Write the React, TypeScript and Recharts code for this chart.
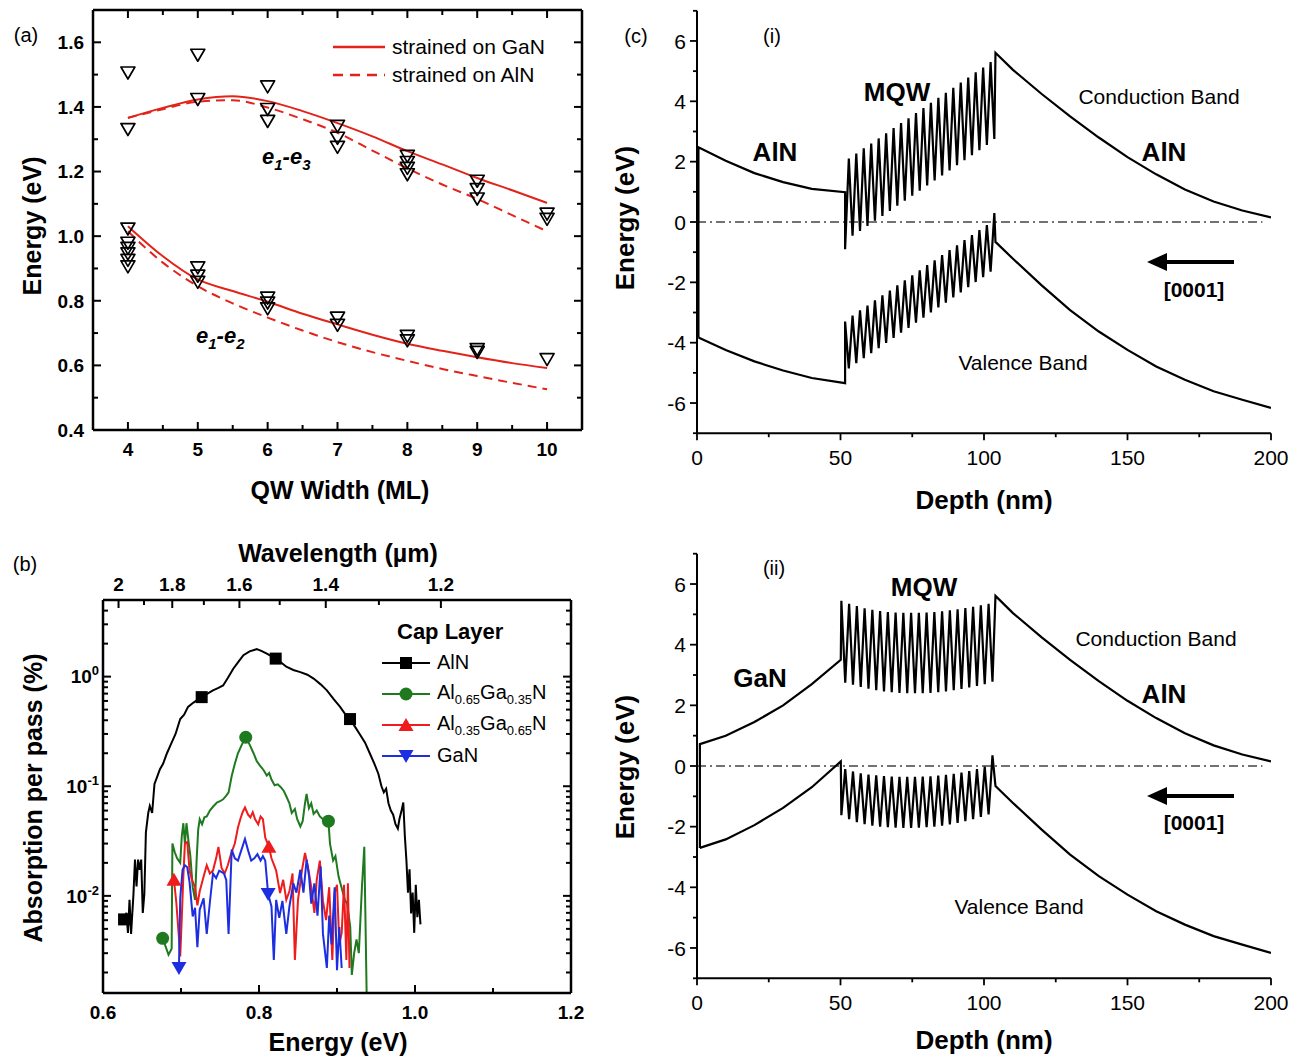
import React from 'react';
import { ComposedChart, Line, Scatter, XAxis, YAxis, Legend, ReferenceLine } from 'recharts';

const FONT = '"Liberation Sans", Arial, Helvetica, sans-serif';
const CURVE_RED = '#e2231a';
const C_ALN = '#000000';
const C_AL65 = '#1f7a1f';
const C_AL35 = '#ee1c1c';
const C_GAN = '#1c2ee0';

// ---------------- (a) QW transition energies ----------------
const qwWidth = [4, 4.5, 5, 5.5, 6, 6.5, 7, 7.5, 8, 8.5, 9, 9.5, 10];
const e13StrainedGaN = [1.366, 1.397, 1.423, 1.433, 1.418, 1.387, 1.35, 1.309, 1.263, 1.222, 1.18, 1.142, 1.103];
const e13StrainedAlN = [1.366, 1.393, 1.416, 1.421, 1.398, 1.362, 1.32, 1.265, 1.21, 1.16, 1.115, 1.065, 1.015];
const e12StrainedGaN = [1.031, 0.938, 0.866, 0.83, 0.797, 0.76, 0.727, 0.695, 0.667, 0.645, 0.625, 0.607, 0.592];
const e12StrainedAlN = [1.015, 0.918, 0.845, 0.792, 0.748, 0.708, 0.672, 0.641, 0.614, 0.589, 0.567, 0.546, 0.526];
const measuredWidth = [4, 4, 4, 4, 4, 4, 4, 4, 5, 5, 5, 5, 5, 6, 6, 6, 6, 6, 6, 7, 7, 7, 7, 7, 8, 8, 8, 8, 8, 8, 9, 9, 9, 9, 9, 10, 10, 10];
const measuredEnergy = [1.505, 1.33, 1.022, 0.978, 0.962, 0.945, 0.925, 0.905, 1.56, 1.423, 0.902, 0.876, 0.857, 1.462, 1.392, 1.355, 0.808, 0.793, 0.775, 1.34, 1.303, 1.275, 0.746, 0.724, 1.247, 1.228, 1.21, 1.19, 0.69, 0.676, 1.17, 1.144, 1.115, 0.649, 0.64, 1.068, 1.052, 0.618];
const aXTicks = [4, 4.5, 5, 5.5, 6, 6.5, 7, 7.5, 8, 8.5, 9, 9.5, 10];
const aXMajor = [4, 5, 6, 7, 8, 9, 10];
const aYTicks = [0.4, 0.5, 0.6, 0.7, 0.8, 0.9, 1.0, 1.1, 1.2, 1.3, 1.4, 1.5, 1.6];
const aYMajor = [0.4, 0.6, 0.8, 1.0, 1.2, 1.4, 1.6];
const aLegendNames = ['strained on GaN', 'strained on AlN'];

// ---------------- (b) absorption spectra ----------------
const alnE = [0.623, 0.627, 0.63, 0.632, 0.634, 0.636, 0.639, 0.641, 0.643, 0.645, 0.647, 0.649, 0.651, 0.653, 0.655, 0.658, 0.66, 0.663, 0.666, 0.67, 0.673, 0.677, 0.682, 0.688, 0.693, 0.699, 0.704, 0.709, 0.716, 0.7265, 0.734, 0.741, 0.748, 0.754, 0.76, 0.767, 0.774, 0.78, 0.788, 0.797, 0.803, 0.81, 0.8214, 0.828, 0.835, 0.844, 0.853, 0.862, 0.87, 0.879, 0.887, 0.896, 0.904, 0.91, 0.9167, 0.923, 0.929, 0.936, 0.942, 0.948, 0.953, 0.957, 0.96, 0.963, 0.966, 0.969, 0.972, 0.975, 0.978, 0.98, 0.983, 0.985, 0.987, 0.989, 0.991, 0.993, 0.995, 0.997, 0.999, 1.001, 1.003, 1.005, 1.007];
const alnA = [0.0061, 0.0061, 0.007, 0.0046, 0.0092, 0.0045, 0.0102, 0.0214, 0.0122, 0.0214, 0.0173, 0.0214, 0.007, 0.0104, 0.038, 0.057, 0.066, 0.057, 0.105, 0.125, 0.143, 0.16, 0.2, 0.25, 0.3, 0.41, 0.45, 0.53, 0.58, 0.65, 0.7, 0.75, 0.79, 0.83, 0.97, 1.18, 1.38, 1.57, 1.7, 1.78, 1.72, 1.62, 1.46, 1.35, 1.23, 1.15, 1.1, 1.04, 0.96, 0.85, 0.75, 0.62, 0.53, 0.46, 0.41, 0.35, 0.3, 0.25, 0.2, 0.16, 0.13, 0.1, 0.088, 0.095, 0.07, 0.06, 0.055, 0.045, 0.041, 0.05, 0.061, 0.071, 0.035, 0.021, 0.0107, 0.0175, 0.0069, 0.0107, 0.0046, 0.0126, 0.0064, 0.0092, 0.0055];
const al65E = [0.6765, 0.68, 0.684, 0.688, 0.689, 0.692, 0.695, 0.699, 0.701, 0.703, 0.705, 0.707, 0.71, 0.712, 0.715, 0.718, 0.72, 0.722, 0.724, 0.727, 0.73, 0.733, 0.737, 0.741, 0.746, 0.75, 0.754, 0.758, 0.761, 0.765, 0.769, 0.773, 0.778, 0.783, 0.788, 0.793, 0.797, 0.801, 0.806, 0.81, 0.813, 0.816, 0.82, 0.824, 0.828, 0.832, 0.835, 0.839, 0.842, 0.846, 0.849, 0.853, 0.856, 0.859, 0.861, 0.864, 0.867, 0.87, 0.874, 0.878, 0.882, 0.885, 0.889, 0.891, 0.895, 0.898, 0.902, 0.906, 0.91, 0.913, 0.917, 0.919, 0.922, 0.925, 0.928, 0.932, 0.935, 0.938];
const al65A = [0.0041, 0.0035, 0.0029, 0.0033, 0.03, 0.025, 0.022, 0.02, 0.035, 0.046, 0.03, 0.046, 0.03, 0.023, 0.012, 0.0092, 0.021, 0.04, 0.05, 0.045, 0.052, 0.053, 0.06, 0.065, 0.071, 0.073, 0.076, 0.082, 0.088, 0.124, 0.16, 0.2, 0.24, 0.28, 0.24, 0.2, 0.17, 0.155, 0.14, 0.125, 0.132, 0.115, 0.102, 0.104, 0.098, 0.09, 0.081, 0.07, 0.057, 0.062, 0.05, 0.043, 0.048, 0.07, 0.085, 0.063, 0.07, 0.056, 0.06, 0.053, 0.05, 0.05, 0.048, 0.03, 0.021, 0.023, 0.015, 0.0118, 0.0092, 0.0085, 0.0052, 0.0019, 0.003, 0.004, 0.003, 0.0122, 0.028, 0.0013];
const al35E = [0.691, 0.694, 0.697, 0.699, 0.701, 0.703, 0.705, 0.708, 0.711, 0.714, 0.718, 0.721, 0.724, 0.729, 0.733, 0.737, 0.741, 0.745, 0.748, 0.752, 0.756, 0.76, 0.764, 0.769, 0.773, 0.776, 0.779, 0.782, 0.786, 0.789, 0.792, 0.795, 0.799, 0.802, 0.805, 0.808, 0.8127, 0.816, 0.822, 0.827, 0.831, 0.835, 0.839, 0.843, 0.846, 0.85, 0.855, 0.859, 0.863, 0.867, 0.871, 0.874, 0.878, 0.882, 0.886, 0.89, 0.894, 0.897, 0.9, 0.903, 0.906, 0.909, 0.912, 0.914, 0.916];
const al35A = [0.014, 0.0087, 0.0045, 0.0028, 0.0063, 0.015, 0.03, 0.031, 0.017, 0.014, 0.012, 0.0082, 0.011, 0.015, 0.019, 0.016, 0.017, 0.022, 0.028, 0.018, 0.016, 0.019, 0.024, 0.03, 0.042, 0.05, 0.058, 0.064, 0.055, 0.052, 0.058, 0.05, 0.045, 0.053, 0.05, 0.034, 0.028, 0.022, 0.017, 0.0106, 0.014, 0.0092, 0.011, 0.016, 0.0026, 0.0092, 0.017, 0.0246, 0.018, 0.012, 0.007, 0.014, 0.021, 0.009, 0.006, 0.012, 0.0026, 0.0107, 0.0126, 0.0036, 0.0046, 0.0126, 0.0026, 0.013, 0.0022];
const ganE = [0.6974, 0.699, 0.702, 0.705, 0.708, 0.711, 0.715, 0.718, 0.721, 0.724, 0.729, 0.733, 0.737, 0.741, 0.745, 0.749, 0.755, 0.758, 0.761, 0.765, 0.769, 0.773, 0.778, 0.782, 0.786, 0.79, 0.794, 0.798, 0.802, 0.805, 0.808, 0.8117, 0.816, 0.819, 0.822, 0.826, 0.83, 0.835, 0.839, 0.844, 0.848, 0.853, 0.857, 0.861, 0.864, 0.867, 0.871, 0.875, 0.879, 0.882, 0.887, 0.89, 0.893, 0.897, 0.9, 0.903, 0.906];
const ganA = [0.0022, 0.0095, 0.0173, 0.019, 0.0182, 0.0133, 0.0065, 0.0078, 0.0034, 0.0075, 0.0095, 0.0045, 0.0087, 0.016, 0.0145, 0.017, 0.016, 0.014, 0.0045, 0.0264, 0.022, 0.021, 0.027, 0.033, 0.026, 0.021, 0.022, 0.024, 0.021, 0.023, 0.021, 0.0104, 0.008, 0.0026, 0.0092, 0.0063, 0.009, 0.0045, 0.008, 0.013, 0.0107, 0.0173, 0.0107, 0.0214, 0.0155, 0.0085, 0.013, 0.0066, 0.0186, 0.0045, 0.0022, 0.0066, 0.0036, 0.012, 0.0021, 0.0052, 0.0022];
const alnMarkE = [0.627, 0.7265, 0.8214, 0.9167];
const alnMarkA = [0.0061, 0.65, 1.46, 0.41];
const al65MarkE = [0.6765, 0.783, 0.889];
const al65MarkA = [0.0041, 0.28, 0.048];
const al35MarkE = [0.691, 0.8127];
const al35MarkA = [0.014, 0.028];
const ganMarkE = [0.6974, 0.8117];
const ganMarkA = [0.0022, 0.0104];
const bXTicks = [0.6, 0.7, 0.8, 0.9, 1.0, 1.1, 1.2];
const bXMajor = [0.6, 0.8, 1.0, 1.2];
const bYTicks = [0.002, 0.003, 0.004, 0.005, 0.006, 0.007, 0.008, 0.009, 0.01, 0.02, 0.03, 0.04, 0.05, 0.06, 0.07, 0.08, 0.09, 0.1, 0.2, 0.3, 0.4, 0.5, 0.6, 0.7, 0.8, 0.9, 1, 2, 3, 4];
const bYMajor = [0.01, 0.1, 1];
const wavelengthTicks = [2, 1.9, 1.8, 1.7, 1.6, 1.5, 1.4, 1.3, 1.2];
const wavelengthMajor = [2, 1.8, 1.6, 1.4, 1.2];
const HC = 1.23984; // eV * um
const capLayers = ['AlN', 'Al0.65Ga0.35N', 'Al0.35Ga0.65N', 'GaN'];

// ---------------- (c) band diagrams ----------------
const depthRight = [104, 110, 120, 130, 140, 150, 160, 170, 180, 190, 200];
const cbRight = [5.61, 5.05, 4.25, 3.5, 2.8, 2.15, 1.58, 1.08, 0.68, 0.38, 0.15];
const vbRight = [-0.66, -1.21, -2.09, -2.92, -3.63, -4.24, -4.79, -5.23, -5.61, -5.89, -6.16];

// (i) AlN cap
const cbLeftXI = [0.5, 0.5, 10, 20, 30, 40, 51.6];
const cbLeftI = [-3.83, 2.48, 2.03, 1.62, 1.32, 1.1, 0.99];
const vbLeftXI = [0.5, 10, 20, 30, 40, 51.6];
const vbLeftI = [-3.83, -4.24, -4.62, -4.92, -5.17, -5.34];
const wellXI = [51.6, 54.2, 56.8, 59.4, 62.0, 64.6, 67.2, 69.8, 72.4, 75.0, 77.6, 80.2, 82.8, 85.4, 88.0, 90.6, 93.2, 95.8, 98.4, 101.0, 103.6];
const barrierXI = [52.9, 55.5, 58.1, 60.7, 63.3, 65.9, 68.5, 71.1, 73.7, 76.3, 78.9, 81.5, 84.1, 86.7, 89.3, 91.9, 94.5, 97.1, 99.7, 102.3];
const cbWellI = [-0.9, -0.45, -0.3, -0.13, 0.04, 0.2, 0.37, 0.54, 0.71, 0.87, 1.04, 1.21, 1.38, 1.54, 1.71, 1.88, 2.05, 2.21, 2.38, 2.55, 2.75];
const cbBarrierI = [2.1, 2.27, 2.44, 2.6, 2.77, 2.94, 3.11, 3.28, 3.44, 3.61, 3.78, 3.95, 4.12, 4.28, 4.45, 4.62, 4.79, 4.96, 5.12, 5.3];
const vbWellI = [-3.3, -3.1, -2.93, -2.77, -2.6, -2.43, -2.27, -2.1, -1.93, -1.77, -1.6, -1.43, -1.27, -1.1, -0.93, -0.77, -0.6, -0.43, -0.27, -0.1, 0.3];
const vbBarrierI = [-4.85, -4.68, -4.51, -4.35, -4.18, -4.01, -3.84, -3.67, -3.51, -3.34, -3.17, -3.0, -2.83, -2.67, -2.5, -2.33, -2.16, -1.99, -1.83, -1.65];

// (ii) GaN cap
const cbLeftXII = [1, 1, 10, 20, 30, 40, 50.1];
const cbLeftII = [-2.7, 0.72, 1.0, 1.45, 2.0, 2.7, 3.5];
const vbLeftXII = [1, 10, 20, 30, 40, 50.1];
const vbLeftII = [-2.7, -2.42, -1.95, -1.38, -0.7, 0.15];
const barrierXII = [50.3, 53.0, 55.7, 58.4, 61.1, 63.8, 66.5, 69.2, 71.9, 74.6, 77.3, 80.0, 82.7, 85.4, 88.1, 90.8, 93.5, 96.2, 98.9, 101.6];
const wellXII = [51.65, 54.35, 57.05, 59.75, 62.45, 65.15, 67.85, 70.55, 73.25, 75.95, 78.65, 81.35, 84.05, 86.75, 89.45, 92.15, 94.85, 97.55, 100.25, 102.95];
const cbBarrierII = [5.45, 5.35, 5.27, 5.2, 5.15, 5.11, 5.08, 5.06, 5.05, 5.05, 5.05, 5.06, 5.08, 5.1, 5.13, 5.17, 5.21, 5.25, 5.3, 5.35];
const cbWellII = [2.75, 2.68, 2.61, 2.55, 2.5, 2.46, 2.43, 2.41, 2.4, 2.4, 2.4, 2.41, 2.43, 2.46, 2.5, 2.54, 2.59, 2.64, 2.7, 2.78];
const vbBarrierII = [-1.62, -1.75, -1.85, -1.92, -1.97, -2.0, -2.02, -2.03, -2.04, -2.04, -2.03, -2.02, -2.0, -1.97, -1.93, -1.88, -1.82, -1.75, -1.68, -1.6];
const vbWellII = [-0.1, -0.18, -0.24, -0.28, -0.31, -0.33, -0.35, -0.36, -0.36, -0.36, -0.35, -0.34, -0.32, -0.29, -0.26, -0.22, -0.17, -0.1, -0.02, 0.35];

const cXTicks = [0, 25, 50, 75, 100, 125, 150, 175, 200];
const cXMajor = [0, 50, 100, 150, 200];
const cYTicks = [-7, -6, -5, -4, -3, -2, -1, 0, 1, 2, 3, 4, 5, 6, 7];
const cYMajor = [-6, -4, -2, 0, 2, 4, 6];

// ---------------- helpers ----------------
const pts = (xs: number[], ys: number[], kx = 'x', ky = 'y') => xs.map((x, i) => ({ [kx]: x, [ky]: ys[i] }));
function interleave(ax: number[], ay: number[], bx: number[], by: number[]) {
  const out: { x: number; y: number }[] = [];
  const n = Math.max(ax.length, bx.length);
  for (let i = 0; i < n; i++) {
    if (i < ax.length) out.push({ x: ax[i], y: ay[i] });
    if (i < bx.length) out.push({ x: bx[i], y: by[i] });
  }
  return out;
}

type TickOpts = {
  side: 'left' | 'right' | 'top' | 'bottom';
  majors: number[];
  inward: boolean;
  major: number;
  minor: number;
  format?: (v: number) => React.ReactNode;
  fontSize?: number;
  fontWeight?: any;
  gap?: number;
  sw?: number;
};
function makeTick(o: TickOpts) {
  return function Tick(props: any) {
    const { x, y, payload } = props;
    const v = Number(payload?.value);
    const isMajor = o.majors.some((m) => Math.abs(m - v) <= 1e-6 * Math.max(Math.abs(m), 1e-3));
    const len = isMajor ? o.major : o.minor;
    const s = o.inward ? 1 : -1;
    let x2 = x, y2 = y;
    if (o.side === 'left') x2 = x + s * len;
    else if (o.side === 'right') x2 = x - s * len;
    else if (o.side === 'bottom') y2 = y - s * len;
    else y2 = y + s * len;
    const out = o.inward ? 0 : len;
    const gap = o.gap ?? 8;
    const fs = o.fontSize ?? 19;
    let label: React.ReactNode = null;
    if (isMajor && o.format) {
      const common = { fontFamily: FONT, fontSize: fs, fontWeight: o.fontWeight ?? 'normal', fill: '#000' };
      if (o.side === 'left')
        label = <text x={x - out - gap} y={y} dy="0.36em" textAnchor="end" {...common}>{o.format(v)}</text>;
      else if (o.side === 'bottom')
        label = <text x={x} y={y + out + gap + fs * 0.72} textAnchor="middle" {...common}>{o.format(v)}</text>;
      else if (o.side === 'top')
        label = <text x={x} y={y - out - gap} textAnchor="middle" {...common}>{o.format(v)}</text>;
    }
    return (
      <g>
        <line x1={x} y1={y} x2={x2} y2={y2} stroke="#000" strokeWidth={o.sw ?? 2} />
        {label}
      </g>
    );
  };
}

const FRAME = { stroke: '#000', strokeWidth: 2.5 };

// ---------------- markers ----------------
const OpenDownTri = (p: any) => (
  <path d={`M${p.cx - 7},${p.cy - 6} L${p.cx + 7},${p.cy - 6} L${p.cx},${p.cy + 6} Z`} fill="none" stroke="#000" strokeWidth={1.7} strokeLinejoin="round" />
);
const SquareMark = (p: any) => <rect x={p.cx - 6} y={p.cy - 6} width={12} height={12} fill={C_ALN} />;
const CircleMark = (p: any) => <circle cx={p.cx} cy={p.cy} r={6.5} fill={C_AL65} />;
const UpTriMark = (p: any) => <path d={`M${p.cx - 7.5},${p.cy + 6} L${p.cx + 7.5},${p.cy + 6} L${p.cx},${p.cy - 7} Z`} fill={C_AL35} />;
const DownTriMark = (p: any) => <path d={`M${p.cx - 7.5},${p.cy - 6} L${p.cx + 7.5},${p.cy - 6} L${p.cx},${p.cy + 7} Z`} fill={C_GAN} />;

// ---------------- Panel (a) ----------------
const curveData = qwWidth.map((w, i) => ({ w, e13g: e13StrainedGaN[i], e13a: e13StrainedAlN[i], e12g: e12StrainedGaN[i], e12a: e12StrainedAlN[i] }));
const measuredData = pts(measuredWidth, measuredEnergy, 'w', 'e');

const LegendA = (props: any) => {
  const items = (props.payload || []) as any[];
  return (
    <div style={{ fontFamily: FONT, fontSize: 21, color: '#000' }}>
      {aLegendNames.map((name) => {
        const p = items.find((it) => it.value === name);
        return (
          <div key={name} style={{ display: 'flex', alignItems: 'center', height: 28, whiteSpace: 'nowrap' }}>
            <svg width={59} height={10} style={{ display: 'block' }}>
              <line x1={0} y1={5} x2={52} y2={5} stroke={p?.color || CURVE_RED} strokeWidth={2.5} strokeDasharray={name === 'strained on AlN' ? '10 7' : undefined} />
            </svg>
            <span>{name}</span>
          </div>
        );
      })}
    </div>
  );
};

function PanelA() {
  return (
    <ComposedChart width={600} height={520} data={curveData} margin={{ top: 9, right: 17, bottom: 30, left: 33 }}>
      <XAxis xAxisId="b" dataKey="w" type="number" domain={[3.5, 10.5]} allowDataOverflow ticks={aXTicks} interval={0} height={60}
        tickSize={0} tickMargin={0} tickLine={false} axisLine={FRAME}
        tick={makeTick({ side: 'bottom', majors: aXMajor, inward: true, major: 8, minor: 5, format: (v) => String(v), fontSize: 19, fontWeight: 'bold', gap: 12 })} />
      <XAxis xAxisId="t" dataKey="w" orientation="top" type="number" domain={[3.5, 10.5]} allowDataOverflow ticks={aXTicks} interval={0} height={1}
        tickSize={0} tickMargin={0} tickLine={false} axisLine={FRAME}
        tick={makeTick({ side: 'top', majors: aXMajor, inward: true, major: 8, minor: 5 })} />
      <YAxis yAxisId="l" type="number" domain={[0.4, 1.7]} allowDataOverflow ticks={aYTicks} interval={0} width={60}
        tickSize={0} tickMargin={0} tickLine={false} axisLine={FRAME}
        tick={makeTick({ side: 'left', majors: aYMajor, inward: true, major: 8, minor: 5, format: (v) => v.toFixed(1), fontSize: 19, fontWeight: 'bold', gap: 9 })} />
      <YAxis yAxisId="r" orientation="right" type="number" domain={[0.4, 1.7]} allowDataOverflow ticks={aYTicks} interval={0} width={1}
        tickSize={0} tickMargin={0} tickLine={false} axisLine={FRAME}
        tick={makeTick({ side: 'right', majors: aYMajor, inward: true, major: 8, minor: 5 })} />
      <Line xAxisId="b" yAxisId="l" dataKey="e13g" name="strained on GaN" type="monotone" stroke={CURVE_RED} strokeWidth={2} dot={false} isAnimationActive={false} />
      <Line xAxisId="b" yAxisId="l" dataKey="e13a" name="strained on AlN" type="monotone" stroke={CURVE_RED} strokeWidth={2} strokeDasharray="9 6" dot={false} isAnimationActive={false} />
      <Line xAxisId="b" yAxisId="l" dataKey="e12g" name="e12 on GaN" legendType="none" type="monotone" stroke={CURVE_RED} strokeWidth={2} dot={false} isAnimationActive={false} />
      <Line xAxisId="b" yAxisId="l" dataKey="e12a" name="e12 on AlN" legendType="none" type="monotone" stroke={CURVE_RED} strokeWidth={2} strokeDasharray="9 6" dot={false} isAnimationActive={false} />
      <Line xAxisId="t" yAxisId="r" dataKey="e13g" name="mirror" legendType="none" stroke="none" dot={false} activeDot={false} isAnimationActive={false} />
      <Scatter xAxisId="b" yAxisId="l" data={measuredData} dataKey="e" name="measured" legendType="none" shape={OpenDownTri} isAnimationActive={false} />
      <Legend layout="vertical" align="center" verticalAlign="middle" content={LegendA}
        wrapperStyle={{ position: 'absolute', left: 333, top: 33, width: 250, height: 60 }} />
    </ComposedChart>
  );
}

// ---------------- Panel (b) ----------------
const alnData = pts(alnE, alnA, 'E', 'A');
const al65Data = pts(al65E, al65A, 'E', 'A');
const al35Data = pts(al35E, al35A, 'E', 'A');
const ganData = pts(ganE, ganA, 'E', 'A');
const alnMarks = pts(alnMarkE, alnMarkA, 'E', 'A');
const al65Marks = pts(al65MarkE, al65MarkA, 'E', 'A');
const al35Marks = pts(al35MarkE, al35MarkA, 'E', 'A');
const ganMarks = pts(ganMarkE, ganMarkA, 'E', 'A');
const topEnergyTicks = wavelengthTicks.map((l) => HC / l);
const topEnergyMajor = wavelengthMajor.map((l) => HC / l);

const subS = { fontSize: 13 };
const capLabel: Record<string, React.ReactNode> = {
  AlN: <span>AlN</span>,
  'Al0.65Ga0.35N': <span>Al<sub style={subS}>0.65</sub>Ga<sub style={subS}>0.35</sub>N</span>,
  'Al0.35Ga0.65N': <span>Al<sub style={subS}>0.35</sub>Ga<sub style={subS}>0.65</sub>N</span>,
  GaN: <span>GaN</span>,
};
const capMarker: Record<string, (cx: number, cy: number) => React.ReactNode> = {
  AlN: (cx, cy) => <SquareMark cx={cx} cy={cy} />,
  'Al0.65Ga0.35N': (cx, cy) => <CircleMark cx={cx} cy={cy} />,
  'Al0.35Ga0.65N': (cx, cy) => <UpTriMark cx={cx} cy={cy} />,
  GaN: (cx, cy) => <DownTriMark cx={cx} cy={cy} />,
};
const capColor: Record<string, string> = { AlN: C_ALN, 'Al0.65Ga0.35N': C_AL65, 'Al0.35Ga0.65N': C_AL35, GaN: C_GAN };

const LegendB = (props: any) => {
  const items = (props.payload || []) as any[];
  return (
    <div style={{ fontFamily: FONT, fontSize: 20, color: '#000' }}>
      <div style={{ fontWeight: 'bold', fontSize: 22, height: 30, paddingLeft: 15, lineHeight: '30px' }}>Cap Layer</div>
      {capLayers.map((name) => {
        const p = items.find((it) => it.value === name);
        return (
          <div key={name} style={{ display: 'flex', alignItems: 'center', height: 31, whiteSpace: 'nowrap' }}>
            <svg width={55} height={20} style={{ display: 'block' }}>
              <line x1={0} y1={10} x2={48} y2={10} stroke={p?.color || capColor[name]} strokeWidth={2} />
              {capMarker[name](24, 10)}
            </svg>
            {capLabel[name]}
          </div>
        );
      })}
    </div>
  );
};

const superLabel = (v: number) => {
  const exp = Math.round(Math.log10(v));
  return (
    <>
      <tspan>10</tspan>
      <tspan dy={-8} fontSize={13}>{String(exp)}</tspan>
    </>
  );
};

function PanelB() {
  return (
    <ComposedChart width={600} height={529} margin={{ top: 69, right: 28, bottom: 6, left: 43 }}>
      <XAxis xAxisId="b" dataKey="E" type="number" domain={[0.6, 1.2]} allowDataOverflow ticks={bXTicks} interval={0} height={60}
        tickSize={0} tickMargin={0} tickLine={false} axisLine={FRAME}
        tick={makeTick({ side: 'bottom', majors: bXMajor, inward: true, major: 8, minor: 5, format: (v) => v.toFixed(1), fontSize: 19, fontWeight: 'bold', gap: 12 })} />
      <XAxis xAxisId="t" dataKey="E" orientation="top" type="number" domain={[0.6, 1.2]} allowDataOverflow ticks={topEnergyTicks} interval={0} height={1}
        tickSize={0} tickMargin={0} tickLine={false} axisLine={FRAME}
        tick={makeTick({ side: 'top', majors: topEnergyMajor, inward: true, major: 8, minor: 5, fontSize: 19, fontWeight: 'bold', gap: 9,
          format: (v) => { const l = Math.round((HC / v) * 10) / 10; return l === 2 ? '2' : l.toFixed(1); } })} />
      <YAxis yAxisId="l" type="number" scale="log" domain={[0.0013, 5]} allowDataOverflow ticks={bYTicks} interval={0} width={60}
        tickSize={0} tickMargin={0} tickLine={false} axisLine={FRAME}
        tick={makeTick({ side: 'left', majors: bYMajor, inward: true, major: 8, minor: 5, format: superLabel, fontSize: 19, fontWeight: 'bold', gap: 4 })} />
      <YAxis yAxisId="r" orientation="right" type="number" scale="log" domain={[0.0013, 5]} allowDataOverflow ticks={bYTicks} interval={0} width={1}
        tickSize={0} tickMargin={0} tickLine={false} axisLine={FRAME}
        tick={makeTick({ side: 'right', majors: bYMajor, inward: true, major: 8, minor: 5 })} />
      <Line xAxisId="b" yAxisId="l" data={alnData} dataKey="A" name="AlN" type="linear" stroke={C_ALN} strokeWidth={2} dot={false} isAnimationActive={false} />
      <Line xAxisId="b" yAxisId="l" data={al65Data} dataKey="A" name="Al0.65Ga0.35N" type="linear" stroke={C_AL65} strokeWidth={2} dot={false} isAnimationActive={false} />
      <Line xAxisId="b" yAxisId="l" data={al35Data} dataKey="A" name="Al0.35Ga0.65N" type="linear" stroke={C_AL35} strokeWidth={2} dot={false} isAnimationActive={false} />
      <Line xAxisId="b" yAxisId="l" data={ganData} dataKey="A" name="GaN" type="linear" stroke={C_GAN} strokeWidth={2} dot={false} isAnimationActive={false} />
      <Line xAxisId="t" yAxisId="r" data={alnData} dataKey="A" name="mirror" legendType="none" stroke="none" dot={false} activeDot={false} isAnimationActive={false} />
      <Scatter xAxisId="b" yAxisId="l" data={alnMarks} dataKey="A" name="AlN marks" legendType="none" shape={SquareMark} isAnimationActive={false} />
      <Scatter xAxisId="b" yAxisId="l" data={al65Marks} dataKey="A" name="Al65 marks" legendType="none" shape={CircleMark} isAnimationActive={false} />
      <Scatter xAxisId="b" yAxisId="l" data={al35Marks} dataKey="A" name="Al35 marks" legendType="none" shape={UpTriMark} isAnimationActive={false} />
      <Scatter xAxisId="b" yAxisId="l" data={ganMarks} dataKey="A" name="GaN marks" legendType="none" shape={DownTriMark} isAnimationActive={false} />
      <Legend layout="vertical" align="center" verticalAlign="middle" content={LegendB}
        wrapperStyle={{ position: 'absolute', left: 382, top: 87, width: 215, height: 160 }} />
    </ComposedChart>
  );
}

// ---------------- Panel (c) ----------------
const cbI = [...pts(cbLeftXI, cbLeftI), ...interleave(wellXI, cbWellI, barrierXI, cbBarrierI), ...pts(depthRight, cbRight)];
const vbI = [...pts(vbLeftXI, vbLeftI), ...interleave(wellXI, vbWellI, barrierXI, vbBarrierI), ...pts(depthRight, vbRight)];
const cbII = [...pts(cbLeftXII, cbLeftII), ...interleave(barrierXII, cbBarrierII, wellXII, cbWellII), ...pts(depthRight, cbRight)];
const vbII = [...pts(vbLeftXII, vbLeftII), ...interleave(barrierXII, vbBarrierII, wellXII, vbWellII), ...pts(depthRight, vbRight)];

function BandPanel({ cb, vb, top, bottom, height }: { cb: any[]; vb: any[]; top: number; bottom: number; height: number }) {
  return (
    <ComposedChart width={701} height={height} margin={{ top, right: 30, bottom, left: 37 }}>
      <XAxis dataKey="x" type="number" domain={[0, 200]} allowDataOverflow ticks={cXTicks} interval={0} height={60}
        tickSize={0} tickMargin={0} tickLine={false} axisLine={{ stroke: '#000', strokeWidth: 2 }}
        tick={makeTick({ side: 'bottom', majors: cXMajor, inward: false, major: 7, minor: 4, format: (v) => String(v), fontSize: 21, gap: 10, sw: 1.8 })} />
      <YAxis type="number" domain={[-7, 7]} allowDataOverflow ticks={cYTicks} interval={0} width={60}
        tickSize={0} tickMargin={0} tickLine={false} axisLine={{ stroke: '#000', strokeWidth: 2 }}
        tick={makeTick({ side: 'left', majors: cYMajor, inward: false, major: 7, minor: 4, format: (v) => String(v), fontSize: 21, gap: 4, sw: 1.8 })} />
      <ReferenceLine segment={[{ x: 0, y: 0 }, { x: 197, y: 0 }]} stroke="#444" strokeWidth={1.3} strokeDasharray="9 4 2 4" />
      <Line data={cb} dataKey="y" name="Conduction Band" type="linear" stroke="#000" strokeWidth={2.2} dot={false} isAnimationActive={false} />
      <Line data={vb} dataKey="y" name="Valence Band" type="linear" stroke="#000" strokeWidth={2.2} dot={false} isAnimationActive={false} />
    </ComposedChart>
  );
}

// ---------------- Overlay text ----------------
const T = (p: any) => <text fontFamily={FONT} fill="#000" {...p} />;

function Overlay() {
  const sub = { fontSize: 15, dy: 6 };
  return (
    <svg width={1301} height={1059} style={{ position: 'absolute', left: 0, top: 0, pointerEvents: 'none' }}>
      {/* (a) */}
      <T x={26} y={35} fontSize={20} textAnchor="middle" dominantBaseline="central">(a)</T>
      <T x={0} y={0} fontSize={25} fontWeight="bold" textAnchor="middle" dominantBaseline="central" transform="translate(32,226) rotate(-90)">Energy (eV)</T>
      <T x={340} y={490} fontSize={25} fontWeight="bold" textAnchor="middle" dominantBaseline="central">QW Width (ML)</T>
      <T x={262} y={164} fontSize={22} fontWeight="bold" fontStyle="italic">
        e<tspan {...sub}>1</tspan><tspan dy={-6}>-e</tspan><tspan {...sub}>3</tspan>
      </T>
      <T x={196} y={343} fontSize={22} fontWeight="bold" fontStyle="italic">
        e<tspan {...sub}>1</tspan><tspan dy={-6}>-e</tspan><tspan {...sub}>2</tspan>
      </T>
      {/* (b) */}
      <T x={25} y={564} fontSize={20} textAnchor="middle" dominantBaseline="central">(b)</T>
      <T x={338} y={553} fontSize={25} fontWeight="bold" textAnchor="middle" dominantBaseline="central">Wavelength (µm)</T>
      <T x={338} y={1042} fontSize={25} fontWeight="bold" textAnchor="middle" dominantBaseline="central">Energy (eV)</T>
      <T x={0} y={0} fontSize={25} fontWeight="bold" textAnchor="middle" dominantBaseline="central" transform="translate(33,798) rotate(-90)">Absorption per pass (%)</T>
      {/* (c)(i) */}
      <T x={636} y={36} fontSize={20} textAnchor="middle" dominantBaseline="central">(c)</T>
      <T x={772} y={36} fontSize={20} textAnchor="middle" dominantBaseline="central">(i)</T>
      <T x={0} y={0} fontSize={26} fontWeight="bold" textAnchor="middle" dominantBaseline="central" transform="translate(625,218) rotate(-90)">Energy (eV)</T>
      <T x={984} y={500} fontSize={26} fontWeight="bold" textAnchor="middle" dominantBaseline="central">Depth (nm)</T>
      <T x={897} y={92} fontSize={26} fontWeight="bold" textAnchor="middle" dominantBaseline="central">MQW</T>
      <T x={775} y={152} fontSize={26} fontWeight="bold" textAnchor="middle" dominantBaseline="central">AlN</T>
      <T x={1164} y={152} fontSize={26} fontWeight="bold" textAnchor="middle" dominantBaseline="central">AlN</T>
      <T x={1159} y={96} fontSize={21} textAnchor="middle" dominantBaseline="central">Conduction Band</T>
      <T x={1023} y={362} fontSize={21} textAnchor="middle" dominantBaseline="central">Valence Band</T>
      <T x={1194} y={289} fontSize={21} fontWeight="bold" textAnchor="middle" dominantBaseline="central">[0001]</T>
      <line x1={1234} y1={262} x2={1162} y2={262} stroke="#000" strokeWidth={4} />
      <polygon points="1147,262 1167,253 1167,271" fill="#000" />
      {/* (c)(ii) */}
      <T x={774} y={568} fontSize={20} textAnchor="middle" dominantBaseline="central">(ii)</T>
      <T x={0} y={0} fontSize={26} fontWeight="bold" textAnchor="middle" dominantBaseline="central" transform="translate(625,767) rotate(-90)">Energy (eV)</T>
      <T x={984} y={1040} fontSize={26} fontWeight="bold" textAnchor="middle" dominantBaseline="central">Depth (nm)</T>
      <T x={924} y={587} fontSize={26} fontWeight="bold" textAnchor="middle" dominantBaseline="central">MQW</T>
      <T x={760} y={678} fontSize={26} fontWeight="bold" textAnchor="middle" dominantBaseline="central">GaN</T>
      <T x={1164} y={694} fontSize={26} fontWeight="bold" textAnchor="middle" dominantBaseline="central">AlN</T>
      <T x={1156} y={638} fontSize={21} textAnchor="middle" dominantBaseline="central">Conduction Band</T>
      <T x={1019} y={906} fontSize={21} textAnchor="middle" dominantBaseline="central">Valence Band</T>
      <T x={1194} y={822} fontSize={21} fontWeight="bold" textAnchor="middle" dominantBaseline="central">[0001]</T>
      <line x1={1234} y1={796} x2={1162} y2={796} stroke="#000" strokeWidth={4} />
      <polygon points="1147,796 1167,787 1167,805" fill="#000" />
    </svg>
  );
}

export default function App() {
  return (
    <div style={{ position: 'absolute', left: 0, top: 0, width: 1301, height: 1059, background: '#fff', overflow: 'hidden', fontFamily: FONT }}>
      <div style={{ position: 'absolute', left: 0, top: 0 }}><PanelA /></div>
      <div style={{ position: 'absolute', left: 0, top: 530 }}><PanelB /></div>
      <div style={{ position: 'absolute', left: 600, top: 0 }}><BandPanel cb={cbI} vb={vbI} top={10.8} bottom={26.8} height={520} /></div>
      <div style={{ position: 'absolute', left: 600, top: 530 }}><BandPanel cb={cbII} vb={vbII} top={23.7} bottom={20.7} height={529} /></div>
      <Overlay />
    </div>
  );
}
